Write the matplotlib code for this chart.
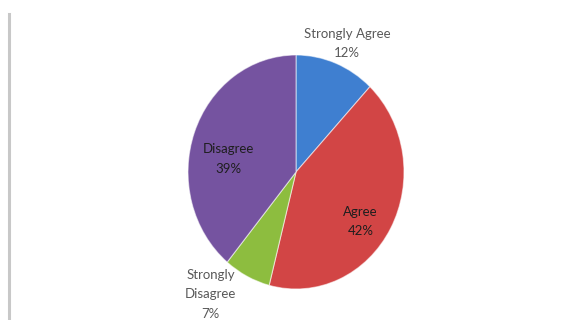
import numpy as np
from matplotlib import pyplot as plt
from matplotlib.lines import Line2D

labels = ["Strongly Agree", "Agree", "Strongly\nDisagree", "Disagree"]
shares = [12, 42, 7, 39]
colors = ["#3f7fd0", "#d24545", "#8dbd3f", "#7553a0"]

# label placement (radius from centre, extra offset in points)
label_radius = [1.22, 0.68, 1.12, 0.64]
label_shift = [(2, -3), (0, -8), (-22, -4), (-2, -9)]
label_inside = [False, True, False, True]

plt.rcParams["font.family"] = ["Lato", "DejaVu Sans"]

fig = plt.figure(figsize=(5.77, 3.2), dpi=100)
fig.patch.set_facecolor("white")

# pie is slightly taller than wide in the reference: place axes in pixels
cx, cy = 296, 148  # centre, from bottom-left
rx, ry = 108, 117  # radii in pixels
xl, yl = 1.5, 1.4
ax = fig.add_axes([(cx - xl * rx) / 577, (cy - yl * ry) / 320,
                   2 * xl * rx / 577, 2 * yl * ry / 320])

wedges, _ = ax.pie(
    shares,
    colors=colors,
    startangle=90,
    counterclock=False,
    wedgeprops=dict(edgecolor=(1, 1, 1, 0.55), linewidth=0.8),
)
ax.set_aspect("auto")
ax.set_xlim(-xl, xl)
ax.set_ylim(-yl, yl)
ax.axis("off")

for w, lab, val, r, (dx, dy), inside in zip(
    wedges, labels, shares, label_radius, label_shift, label_inside
):
    ang = np.deg2rad((w.theta1 + w.theta2) / 2)
    ax.annotate(
        f"{lab}\n{val}%",
        xy=(r * np.cos(ang), r * np.sin(ang)),
        xytext=(dx, dy),
        textcoords="offset points",
        ha="center",
        va="center",
        fontsize=9.5,
        linespacing=1.75,
        color="#1e1e1e" if inside else "#595959",
        annotation_clip=False,
    )

# grey border stub on the left
fig.add_artist(Line2D([9 / 577, 9 / 577], [0, 1 - 14 / 320],
                      color="#c8c8c8", linewidth=2.2,
                      transform=fig.transFigure))

fig.savefig("out.png", dpi=100)
